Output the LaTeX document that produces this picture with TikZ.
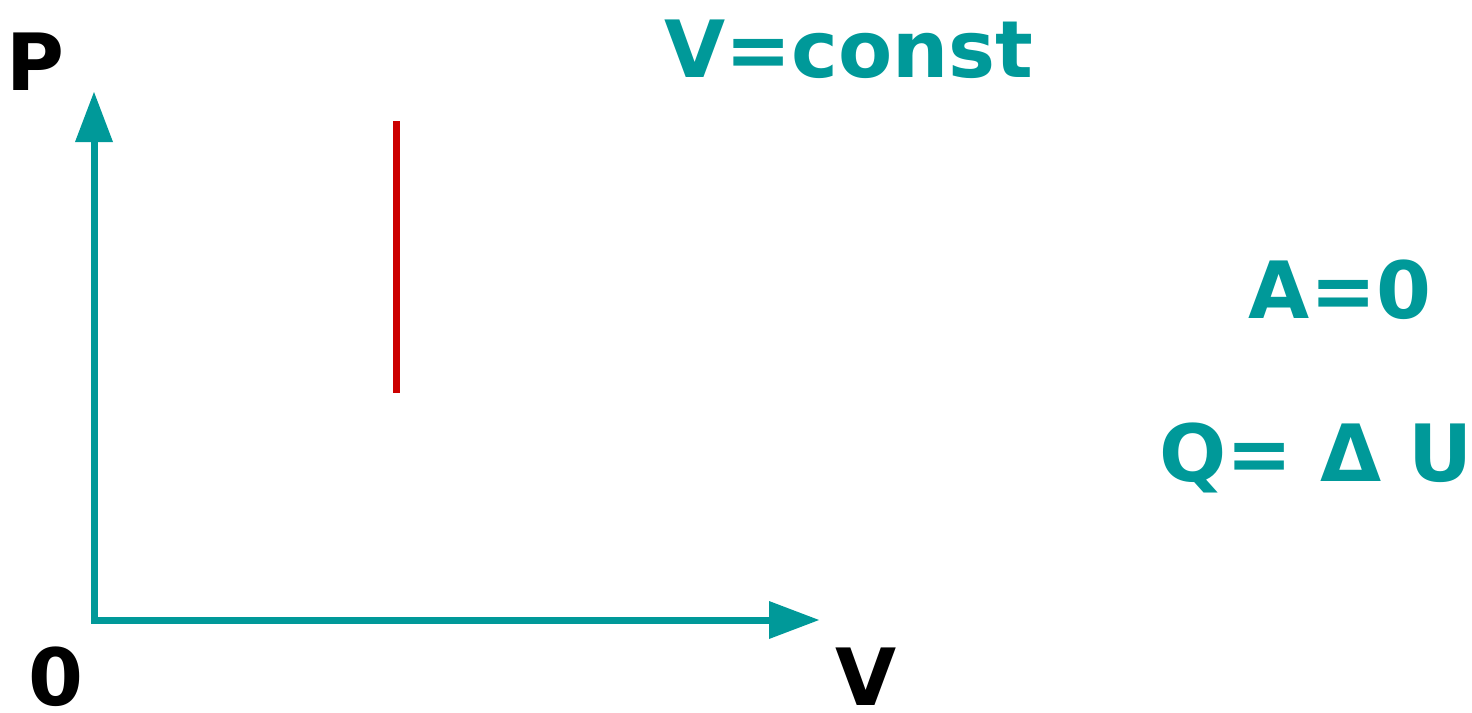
\documentclass[tikz,border=0pt]{standalone}
\usepackage{fontspec}
\setmainfont{DejaVu Sans}
\usetikzlibrary{arrows.meta}
\definecolor{teal}{RGB}{0,153,153}
\definecolor{isored}{RGB}{204,0,0}
\tikzset{
  lbl/.style={inner sep=0pt, anchor=base, font=\fontsize{79}{90}\selectfont\bfseries},
  axis/.style={draw=teal, line width=7pt,
    {Triangle[length=50pt,width=38pt,line width=0pt]}-{Triangle[length=50pt,width=38pt,line width=0pt]}},
}
\begin{document}
\begin{tikzpicture}[x=1pt,y=-1pt]
\useasboundingbox (0,0) rectangle (1472,712);
\coordinate (O) at (94,620);
\coordinate (Ptip) at (94,92);
\coordinate (Vtip) at (819,620);
\draw[axis] (Ptip) -- (O) -- (Vtip);
\coordinate (R1) at (396,121);
\coordinate (R2) at (396,393);
\draw[isored, line width=7pt] (R1) -- (R2);
\node[lbl] (plabel) at (35,90) {P};
\node[lbl, text depth=0pt] (zero) at (56,705) {0};
\node[lbl, text depth=0pt] (vlabel) at (866,705) {V};
\node[lbl, text=teal] (vconst) at (849,77) {V=const};
\node[lbl, text=teal] (a0) at (1340,318) {A=0};
\node[lbl, text=teal] (qdu) at (1316,481) {Q= Δ U};
\end{tikzpicture}
\end{document}
